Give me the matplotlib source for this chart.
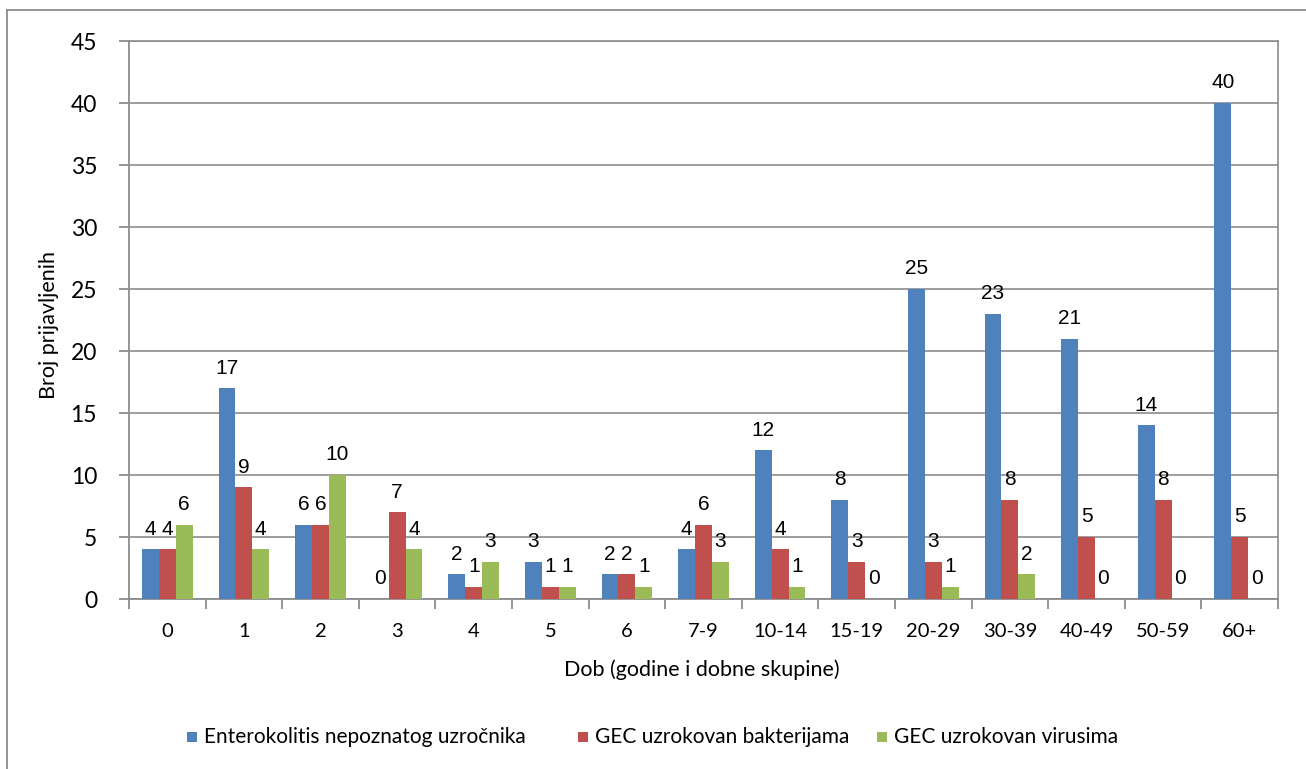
import matplotlib
matplotlib.use("Agg")
import matplotlib.pyplot as plt
from matplotlib.lines import Line2D
from matplotlib.patches import Rectangle
import numpy as np

categories = ["0", "1", "2", "3", "4", "5", "6", "7-9", "10-14", "15-19",
              "20-29", "30-39", "40-49", "50-59", "60+"]
series_names = ["Enterokolitis nepoznatog uzročnika",
                "GEC uzrokovan bakterijama",
                "GEC uzrokovan virusima"]
enterokolitis = [4, 17, 6, 0, 2, 3, 2, 4, 12, 8, 25, 23, 21, 14, 40]
bakterije = [4, 9, 6, 7, 1, 1, 2, 6, 4, 3, 3, 8, 5, 8, 5]
virusi = [6, 4, 10, 4, 3, 1, 1, 3, 1, 0, 1, 2, 0, 0, 0]
colors = ["#4F81BD", "#C0504D", "#9BBB59"]

W, H = 1306, 769
fig = plt.figure(figsize=(W / 100, H / 100), dpi=100)
ax = fig.add_axes([129 / W, 1 - 599 / H, (1278 - 129) / W, (599 - 41) / H])

x = np.arange(len(categories))
bw = 0.22
data = [enterokolitis, bakterije, virusi]
for i, (vals, c, name) in enumerate(zip(data, colors, series_names)):
    pos = x + (i - 1) * bw
    ax.bar(pos, vals, width=bw, color=c, label=name, zorder=3, linewidth=0)
    for p, v in zip(pos, vals):
        ax.text(p, v + 0.85, str(v), ha="center", va="bottom",
                fontsize=15, family="Liberation Sans", color="black", zorder=4)

ax.set_xlim(-0.5, len(categories) - 0.5)
ax.set_ylim(0, 45)
ax.set_yticks(range(0, 46, 5))
ax.set_xticks(x)
ax.set_xticklabels(categories, family="Lato", fontsize=14.5)
for lbl in ax.get_yticklabels():
    lbl.set_family("Lato")
    lbl.set_fontsize(16.5)
ax.set_xticks(np.arange(-0.5, len(categories)), minor=True)
ax.tick_params(axis="x", which="major", length=0, pad=17)
ax.tick_params(axis="x", which="minor", length=7, color="#8C8C8C", width=1.3)
ax.tick_params(axis="y", length=7, color="#8C8C8C", width=1.3, pad=16)

ax.grid(axis="y", color="#8C8C8C", linewidth=1.2, zorder=0)
for s in ["top", "right"]:
    ax.spines[s].set_visible(True)
    ax.spines[s].set_color("#8C8C8C")
    ax.spines[s].set_linewidth(1.2)
for s in ["left", "bottom"]:
    ax.spines[s].set_color("#8C8C8C")
    ax.spines[s].set_linewidth(1.3)

fig.text(49 / W, 1 - 325 / H, "Broj prijavljenih", rotation=90, ha="center",
         va="center", family="Lato", fontsize=15.5)
fig.text(702 / W, 1 - 670 / H, "Dob (godine i dobne skupine)", ha="center",
         va="center", family="Lato", fontsize=15.5)

# legend (manually placed)
leg_sq_x = [187, 578, 877]
leg_txt_x = [204, 595, 894]
leg_y = 737
sq = 10
for c, name, sx, tx in zip(colors, series_names, leg_sq_x, leg_txt_x):
    fig.add_artist(Rectangle((sx / W, 1 - (leg_y + sq / 2) / H), sq / W, sq / H,
                             transform=fig.transFigure, facecolor=c, edgecolor="none"))
    fig.text(tx / W, 1 - leg_y / H, name, ha="left", va="center",
             family="Lato", fontsize=15)

# outer frame (left and top only visible)
fig.add_artist(Line2D([7 / W, 7 / W], [0, 1 - 10 / H], transform=fig.transFigure,
                      color="#8C8C8C", linewidth=1.3))
fig.add_artist(Line2D([7 / W, 1], [1 - 10 / H, 1 - 10 / H], transform=fig.transFigure,
                      color="#8C8C8C", linewidth=1.3))

fig.savefig("out.png", dpi=100, facecolor="white")
